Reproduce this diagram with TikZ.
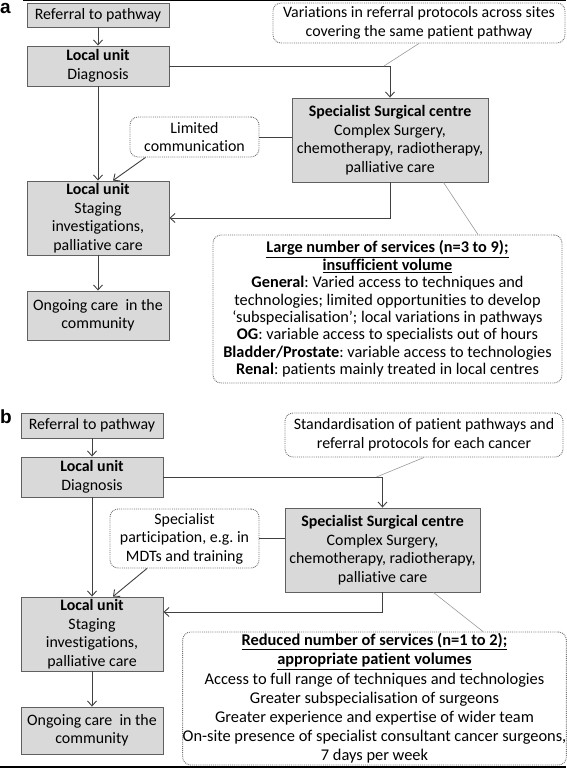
\documentclass[tikz,border=0pt]{standalone}
\usepackage{fontspec}
\setmainfont{Carlito}[Ligatures=NoCommon]
\newfontfamily\labfont{Liberation Sans}
\usetikzlibrary{arrows.meta,calc}
\frenchspacing
\definecolor{boxfill}{HTML}{D9D9D9}
\definecolor{boxline}{HTML}{606060}
\definecolor{conn}{HTML}{404040}
\definecolor{dotline}{HTML}{707070}
\definecolor{thin}{HTML}{9A9A9A}
\tikzset{
  x=1pt, y=-1pt,
  txt/.style={font=\fontsize{15.9}{18.5}\selectfont, align=center, inner sep=0pt},
  graybox/.style={txt, draw=boxline, fill=boxfill, line width=0.9pt},
  notebox/.style={txt, draw=dotline, densely dotted, rounded corners=8pt, line width=0.9pt, fill=white},
  link/.style={draw=conn, line width=0.9pt, -{Straight Barb[length=5pt,width=9pt]}},
  plain/.style={draw=conn, line width=0.9pt},
  callout/.style={draw=thin, line width=0.6pt},
  panellabel/.style={font=\labfont\bfseries\fontsize{19}{19}\selectfont, inner sep=0pt, anchor=base west}
}
\begin{document}
\begin{tikzpicture}
\useasboundingbox (0,0) rectangle (566,768);
\draw[line width=1pt] (23,0.5) -- (566,0.5);
\draw[line width=1.6pt] (0,767) -- (566,767);

% ---------------- panel a ----------------
\node[panellabel] (la) at (0,14) {a};
\node[graybox, minimum width=142, minimum height=24] (refA) at (98,15) {Referral to pathway};
\node[graybox, minimum width=142, minimum height=40] (diagA) at (98,66) {\textbf{Local unit}\\Diagnosis};
\node[graybox, minimum width=142, minimum height=74] (stagA) at (98,218) {\textbf{Local unit}\\Staging\\investigations,\\palliative care};
\node[graybox, minimum width=142, minimum height=49] (ongA) at (98,315.5) {Ongoing care\ \ in the\\community};
\node[notebox, minimum width=292, minimum height=40] (varA) at (419,23) {Variations in referral protocols across sites\\covering the same patient pathway};
\node[notebox, minimum width=129, minimum height=40] (limA) at (194.5,137) {Limited\\communication};
\node[graybox, minimum width=196, minimum height=84] (specA) at (390,140) {\textbf{Specialist Surgical centre}\\Complex Surgery,\\chemotherapy, radiotherapy,\\palliative care};
\node[notebox, minimum width=349, minimum height=148, font=\fontsize{16.3}{17.4}\selectfont] (largeA) at (387.5,309) {\underline{\textbf{Large number of services (n=3 to 9);}}\\\underline{\textbf{insufficient volume}}\\\textbf{General}: Varied access to techniques and\\technologies; limited opportunities to develop\\`subspecialisation'; local variations in pathways\\\textbf{OG}: variable access to specialists out of hours\\\textbf{Bladder/Prostate}: variable access to technologies\\\textbf{Renal}: patients mainly treated in local centres};

\coordinate (cA) at (diagA.east -| specA.north);
\draw[link] (refA) -- (diagA);
\draw[link] (diagA) -- (stagA);
\draw[link] (stagA) -- (ongA);
\draw[link] (diagA.east) -| (specA.north);
\draw[link] (specA.south) |- (stagA.east);
\draw[link] ([xshift=-49pt]limA.south) -- ([xshift=15pt]stagA.north);
\draw[plain] (limA.east) -- (limA.east -| specA.west);
\draw[callout] (varA.south) -- ([xshift=-6pt]cA);
\draw[callout] ([xshift=-45pt]specA.south east) -- ([xshift=90.5pt]largeA.north);

% ---------------- panel b ----------------
\node[panellabel] (lb) at (0,423) {b};
\node[graybox, minimum width=142, minimum height=25] (refB) at (92,425.5) {Referral to pathway};
\node[graybox, minimum width=142, minimum height=40] (diagB) at (92,477) {\textbf{Local unit}\\Diagnosis};
\node[graybox, minimum width=142, minimum height=74] (stagB) at (92,634) {\textbf{Local unit}\\Staging\\investigations,\\palliative care};
\node[graybox, minimum width=142, minimum height=47] (ongB) at (92,730.5) {Ongoing care\ \ in the\\community};
\node[notebox, minimum width=278, minimum height=44] (stdB) at (424,435) {Standardisation of patient pathways and\\referral protocols for each cancer};
\node[notebox, minimum width=149, minimum height=59] (partB) at (184.5,538.5) {Specialist\\participation, e.g. in\\MDTs and training};
\node[graybox, minimum width=195, minimum height=84] (specB) at (382.5,550) {\textbf{Specialist Surgical centre}\\Complex Surgery,\\chemotherapy, radiotherapy,\\palliative care};
\node[notebox, minimum width=381, minimum height=133, font=\fontsize{16.4}{19.2}\selectfont] (redB) at (374.5,698.5) {\underline{\textbf{Reduced number of services (n=1 to 2);}}\\\underline{\textbf{appropriate patient volumes}}\\Access to full range of techniques and technologies\\Greater subspecialisation of surgeons\\Greater experience and expertise of wider team\\On-site presence of specialist consultant cancer surgeons,\\7 days per week};

\coordinate (cB) at (diagB.east -| specB.north);
\draw[link] (refB) -- (diagB);
\draw[link] (diagB) -- (stagB);
\draw[link] (stagB) -- (ongB);
\draw[link] (diagB.east) -| (specB.north);
\draw[link] (specB.south) |- ([yshift=22pt]stagB.east);
\draw[link] ([xshift=-37.5pt]partB.south) -- ([xshift=21pt]stagB.north);
\draw[plain] (partB.east) -- (partB.east -| specB.west);
\draw[callout] (stdB.south) -- ([xshift=-6pt]cB);
\draw[callout] ([xshift=-47pt]specB.south east) -- ([xshift=108.5pt]redB.north);
\end{tikzpicture}
\end{document}
